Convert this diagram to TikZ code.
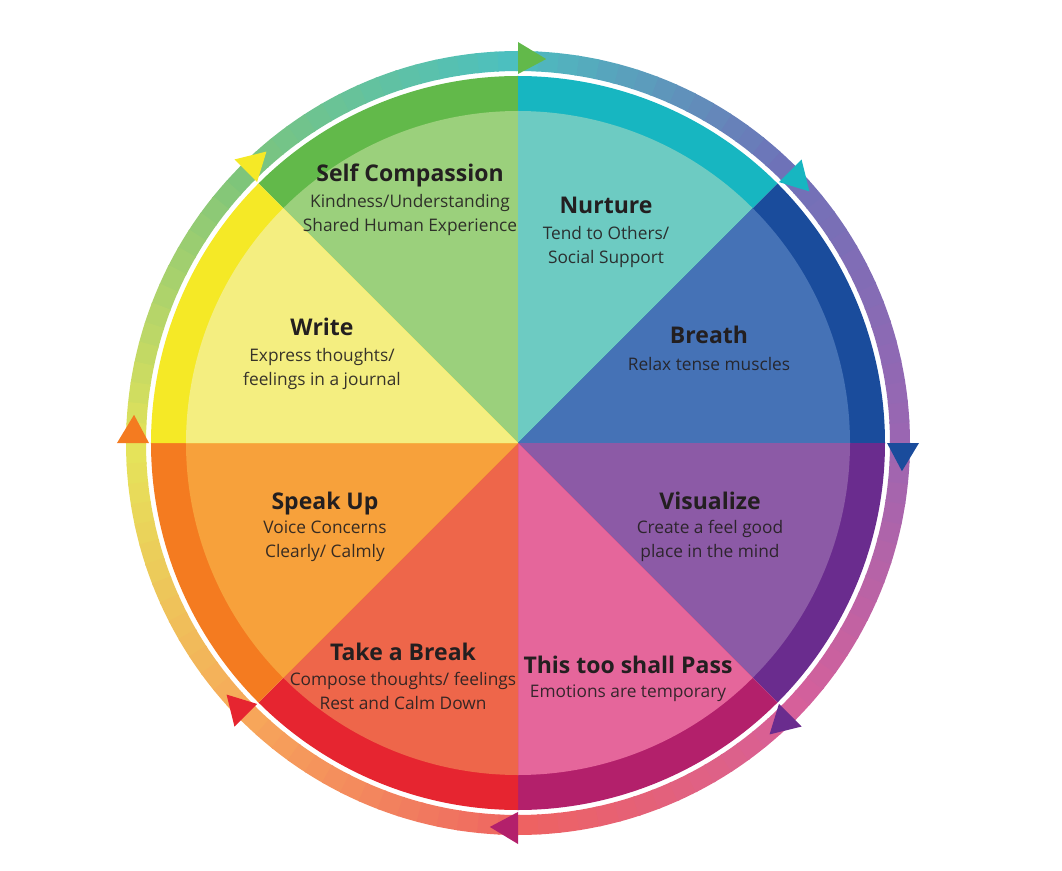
\documentclass[tikz,border=0pt]{standalone}
\usepackage{fontspec}
\setmainfont{Open Sans}
\usetikzlibrary{positioning}

% sector colours: dark rim / light inside
\definecolor{scD}{HTML}{62B94A}\definecolor{scL}{HTML}{9BD07C}
\definecolor{nuD}{HTML}{17B6C1}\definecolor{nuL}{HTML}{6DCBC2}
\definecolor{brD}{HTML}{1A4C9C}\definecolor{brL}{HTML}{4572B6}
\definecolor{viD}{HTML}{6A2C8E}\definecolor{viL}{HTML}{8C5AA6}
\definecolor{paD}{HTML}{B3206B}\definecolor{paL}{HTML}{E5669B}
\definecolor{tbD}{HTML}{E62530}\definecolor{tbL}{HTML}{EE664A}
\definecolor{suD}{HTML}{F47B20}\definecolor{suL}{HTML}{F7A13B}
\definecolor{wrD}{HTML}{F5E926}\definecolor{wrL}{HTML}{F4EE80}
% outer ring, every 45 degrees from 0
\definecolor{ring0}{HTML}{9A66B2}\definecolor{ring1}{HTML}{6E72B8}
\definecolor{ring2}{HTML}{4CBFBF}\definecolor{ring3}{HTML}{7EC57A}
\definecolor{ring4}{HTML}{E5E35A}\definecolor{ring5}{HTML}{F7A65A}
\definecolor{ring6}{HTML}{EE6262}\definecolor{ring7}{HTML}{D6609A}
\definecolor{ring8}{HTML}{9A66B2}
\definecolor{txtdark}{HTML}{231F20}

\begin{document}
\begin{tikzpicture}[x=1pt,y=1pt,
    ttl/.style={font=\fontsize{23}{26}\selectfont\bfseries, text=txtdark, inner sep=0pt, anchor=base},
    sub/.style={font=\fontsize{17.3}{24}\selectfont, text=txtdark, text opacity=0.9,
      align=center, inner sep=0pt}]
  \useasboundingbox (-518,-427) rectangle (544,443);
  % --- outer ring ---
  \foreach \s in {0,...,119}{
    \pgfmathsetmacro\a{\s*3}
    \pgfmathsetmacro\b{\a+3.3}
    \pgfmathtruncatemacro\k{\s/15}
    \pgfmathtruncatemacro\kk{\k+1}
    \pgfmathtruncatemacro\p{100-(\s-15*\k)*100/15}
    \fill[ring\k!\p!ring\kk] (\a:372) arc[start angle=\a, end angle=\b, radius=372]
      -- (\b:392) arc[start angle=\b, end angle=\a, radius=392] -- cycle;
  }
  % --- sectors ---
  \foreach \a/\dk/\lt in {90/scD/scL, 45/nuD/nuL, 0/brD/brL, -45/viD/viL,
      -90/paD/paL, -135/tbD/tbL, 180/suD/suL, 135/wrD/wrL}{
    \fill[\dk] (0,0) -- (\a:367) arc[start angle=\a, end angle=\a+45, radius=367] -- cycle;
    \fill[\lt] (0,0) -- (\a:332) arc[start angle=\a, end angle=\a+45, radius=332] -- cycle;
  }
  % --- arrow heads on the ring ---
  \foreach \a/\c in {90/scD, 45/nuD, 0/brD, -45/viD, -90/paD, -135/tbD, 180/suD, 135/wrD}
    \fill[\c] (\a:369) -- (\a:401) -- (\a-4.2:385) -- cycle;
  % --- labels ---
  \foreach \n/\x/\yt/\ys/\t/\s in {%
      sc/-108/261/228/{Self Compassion}/{Kindness/Understanding\\Shared Human Experience},
      nu/88/229/196/{Nurture}/{Tend to Others/\\Social Support},
      br/191/99/79/{Breath}/{Relax tense muscles},
      wr/-196/107/74/{Write}/{Express thoughts/\\feelings in a journal},
      su/-193/-66/-98/{Speak Up}/{Voice Concerns\\Clearly/ Calmly},
      vi/192/-66/-98/{Visualize}/{Create a feel good\\place in the mind},
      tb/-115/-217/-248/{Take a Break}/{Compose thoughts/ feelings\\Rest and Calm Down},
      pa/110/-230/-250/{This too shall Pass}/{Emotions are temporary}}{
    \node[ttl] (\n) at (\x,\yt) {\t};
    \node[sub] (\n-sub) at (\x,\ys) {\s};
  }
\end{tikzpicture}
\end{document}
